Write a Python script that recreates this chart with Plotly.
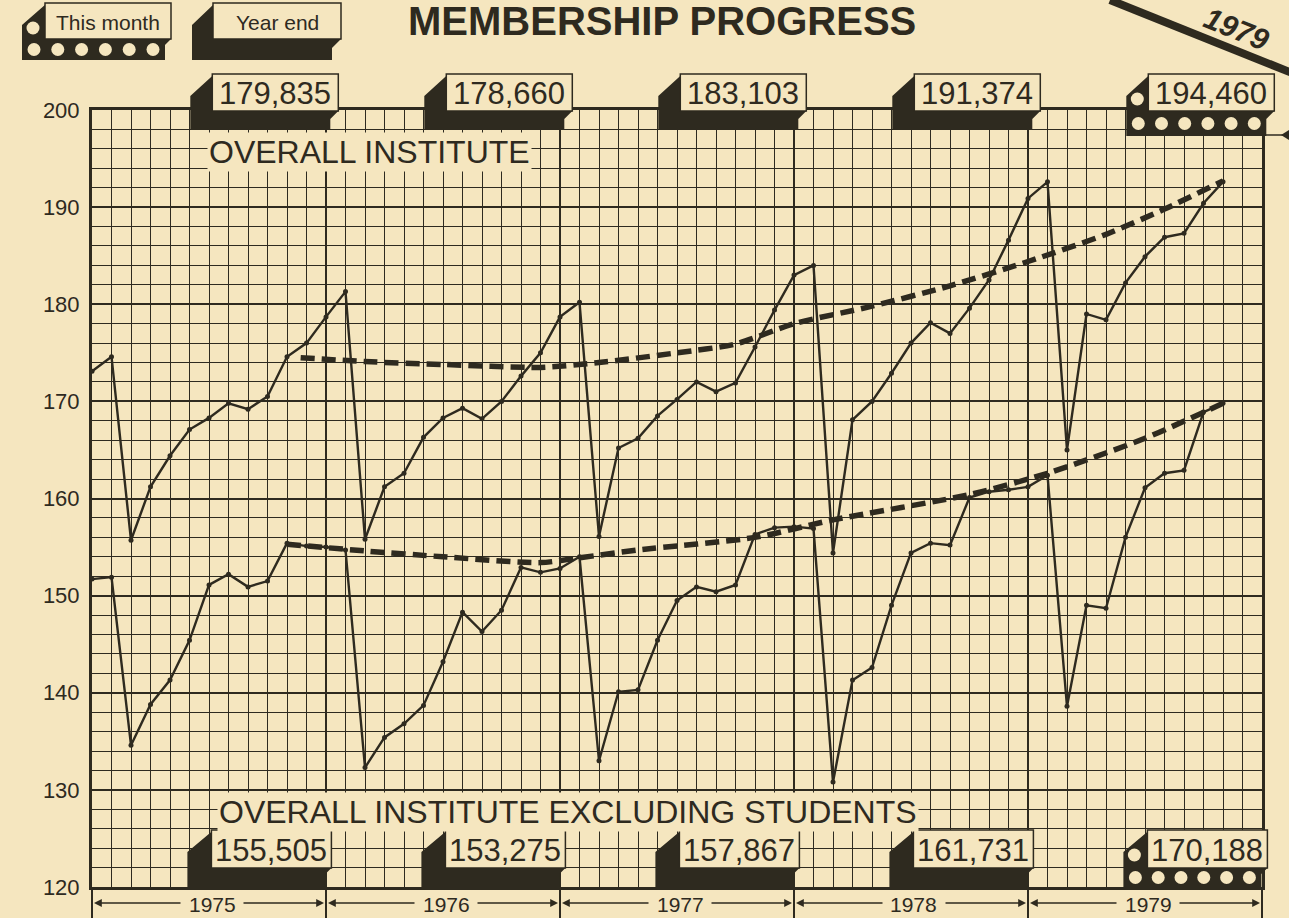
import plotly.graph_objects as go

# ---------------- data (thousands of members, monthly, Jan 1975 = month 0) ----------------
months = list(range(59))
overall_institute = [173.1, 174.6, 155.7, 161.2, 164.4, 167.1, 168.3, 169.8, 169.2, 170.5, 174.6, 176.0, 178.7, 181.3,
                     155.8, 161.2, 162.6, 166.3, 168.3, 169.3, 168.2, 170.0, 172.6, 175.0, 178.7, 180.2,
                     156.1, 165.2, 166.2, 168.5, 170.2, 172.0, 171.0, 171.9, 175.6, 179.4, 183.0, 184.0,
                     154.4, 168.1, 170.0, 172.9, 176.0, 178.1, 177.0, 179.6, 182.5, 186.6, 190.9, 192.6,
                     165.0, 179.0, 178.4, 182.2, 184.9, 186.9, 187.3, 190.4, 192.6]
excluding_students = [151.7, 151.9, 134.6, 138.8, 141.3, 145.4, 151.1, 152.2, 150.9, 151.5, 155.4, 155.1, 155.0, 154.7,
                      132.3, 135.4, 136.8, 138.7, 143.2, 148.3, 146.3, 148.5, 152.9, 152.4, 152.8, 154.0,
                      133.0, 140.1, 140.3, 145.4, 149.5, 150.9, 150.4, 151.1, 156.3, 157.0, 157.1, 156.9,
                      130.8, 141.3, 142.6, 149.0, 154.4, 155.4, 155.2, 160.1, 160.7, 160.9, 161.2, 162.4,
                      138.6, 149.0, 148.7, 156.0, 161.1, 162.6, 162.9, 168.9, 169.8]
trend_overall_months = [10.7, 14, 18, 23, 26, 30, 33, 36, 40, 44, 48, 52, 55, 58]
trend_overall = [174.5, 174.1, 173.8, 173.5, 174.0, 175.0, 175.9, 178.0, 179.8, 181.9, 184.4, 187.2, 189.8, 192.7]
trend_excl_months = [10, 14, 18, 23, 25, 28, 34, 38, 45, 49, 54, 58]
trend_excl = [155.3, 154.6, 154.0, 153.4, 153.9, 154.7, 156.0, 157.8, 160.4, 162.6, 166.2, 169.8]
years = ["1975", "1976", "1977", "1978", "1979"]
year_end_overall = ["179,835", "178,660", "183,103", "191,374", "194,460"]
year_end_excl = ["155,505", "153,275", "157,867", "161,731", "170,188"]
y_ticks = [120, 130, 140, 150, 160, 170, 180, 190, 200]

# ---------------- styling / geometry ----------------
BG = "#F5E6BF"
INK = "#2E2A1F"
FONT = "Liberation Sans"
W, H = 1289, 918
ML, MR, MT, MB = 92, 27, 110, 31
PW, PH = W - ML - MR, H - MT - MB
XMIN, XMAX = 0, 60
YMIN, YMAX = 120, 200


def xp(px):
    return (px - ML) / PW


def yp(py):
    return (H - MB - py) / PH


def mx(m):
    return ML + (m - XMIN) / (XMAX - XMIN) * PW


def P(x, y):
    return f"{xp(x):.5f},{yp(y):.5f}"


shapes = []
annotations = []


def label(text, x, y, size, **kw):
    d = dict(text=text, x=xp(x), y=yp(y), xref="paper", yref="paper", showarrow=False,
             xanchor="center", yanchor="middle", font=dict(size=size, color=INK, family=FONT))
    d.update(kw)
    annotations.append(d)


def tag(box_l, box_r, box_t, box_b, sh_l, sh_r, sh_b, text, size, holes=False):
    pts = [(sh_l, sh_b), (sh_l, box_t + 22), (box_l + 1, box_t + 1), (box_r, box_t + 1),
           (box_r, box_b), (sh_r, box_b + (box_r - sh_r)), (sh_r, sh_b)]
    path = "M " + " L ".join(P(*p) for p in pts) + " Z"
    shapes.append(dict(type="path", xref="paper", yref="paper", path=path,
                       fillcolor=INK, line=dict(width=0), layer="above"))
    shapes.append(dict(type="rect", xref="paper", yref="paper", x0=xp(box_l), x1=xp(box_r),
                       y0=yp(box_b), y1=yp(box_t), fillcolor=BG,
                       line=dict(color=INK, width=1.5), layer="above"))
    if holes:
        r = 6.5
        cy = (box_b + sh_b) / 2
        step = (sh_r - sh_l - 24) / 5
        centers = [(sh_l + 12 + k * step, cy) for k in range(6)] + [(sh_l + 11, box_t + 25)]
        for cx, cyy in centers:
            shapes.append(dict(type="circle", xref="paper", yref="paper",
                               x0=xp(cx - r), x1=xp(cx + r), y0=yp(cyy + r), y1=yp(cyy - r),
                               fillcolor=BG, line=dict(width=0), layer="above"))
    label(text, (box_l + box_r) / 2, (box_t + box_b) / 2 + 1, size)


# legend tags
tag(45, 171, 3, 39, 22, 165, 60, "This month", 21, holes=True)
tag(213, 341, 3, 39, 192, 332, 60, "Year end", 21)

# year-end tags
for i in range(5):
    cx = mx(12 * i + 9.4)
    bl, br = cx - 63, cx + 63
    last = i == 4
    tag(bl, br, 74, 111, bl - 22, br - 8, 136 if last else 130, year_end_overall[i], 31, holes=last)
    cx = mx(12 * i + 9.2)
    bl, br = cx - 60, cx + 60
    tag(bl, br, 830, 868, bl - 24, br - 6, 887, year_end_excl[i], 31, holes=last)

# series labels
label("OVERALL INSTITUTE", 369, 152, 32, bgcolor=BG, borderpad=1)
label("OVERALL INSTITUTE EXCLUDING STUDENTS", 568, 812, 32, bgcolor=BG, borderpad=1)

# title
label("<b>MEMBERSHIP PROGRESS</b>", 662, -3, 40, yanchor="top")

# 1979 banner top-right
shapes.append(dict(type="line", xref="paper", yref="paper", x0=xp(1110), y0=yp(0), x1=xp(1292), y1=yp(73),
                   line=dict(color=INK, width=8), layer="above"))
label("<b><i>1979</i></b>", 1236, 29, 30, textangle=22)
shapes.append(dict(type="line", xref="paper", yref="paper", x0=xp(1262), y0=yp(135), x1=xp(1289), y1=yp(135),
                   line=dict(color=INK, width=1.5), layer="above"))
shapes.append(dict(type="path", xref="paper", yref="paper",
                   path="M " + " L ".join(P(*p) for p in [(1281, 135), (1292, 128), (1292, 142)]) + " Z",
                   fillcolor=INK, line=dict(width=0), layer="above"))

# year spans under the x axis
ROW = 903
for i in range(6):
    shapes.append(dict(type="line", xref="paper", yref="paper", x0=xp(mx(12 * i)), x1=xp(mx(12 * i)),
                       y0=yp(887), y1=yp(920), line=dict(color=INK, width=2)))
for i, yr in enumerate(years):
    lpx, rpx, cpx = mx(12 * i), mx(12 * i + 12), mx(12 * i + 6) + 3
    gap = 30
    annotations.append(dict(text="", x=xp(lpx + 2), y=yp(ROW), xref="paper", yref="paper",
                            ax=(cpx - gap) - (lpx + 2), ay=0, showarrow=True, arrowhead=2, arrowsize=1.2,
                            arrowwidth=1.3, arrowcolor=INK))
    annotations.append(dict(text="", x=xp(rpx - 2), y=yp(ROW), xref="paper", yref="paper",
                            ax=(cpx + gap) - (rpx - 2), ay=0, showarrow=True, arrowhead=2, arrowsize=1.2,
                            arrowwidth=1.3, arrowcolor=INK))
    label(yr, cpx, ROW + 1, 21)

# ---------------- figure ----------------
fig = go.Figure()
fig.add_trace(go.Scatter(x=trend_overall_months, y=trend_overall, mode="lines",
                         line=dict(color=INK, width=5.5, dash="14px,7px", shape="spline", smoothing=0.7),
                         hoverinfo="skip"))
fig.add_trace(go.Scatter(x=trend_excl_months, y=trend_excl, mode="lines",
                         line=dict(color=INK, width=5.5, dash="14px,7px", shape="spline", smoothing=0.7),
                         hoverinfo="skip"))
fig.add_trace(go.Scatter(x=months, y=overall_institute, mode="lines+markers", name="Overall Institute",
                         line=dict(color=INK, width=2.4), marker=dict(size=5, color=INK)))
fig.add_trace(go.Scatter(x=months, y=excluding_students, mode="lines+markers",
                         name="Overall Institute excluding students",
                         line=dict(color=INK, width=2.4), marker=dict(size=5, color=INK)))

fig.update_layout(
    width=W, height=H, autosize=False,
    margin=dict(l=ML, r=MR, t=MT, b=MB),
    paper_bgcolor=BG, plot_bgcolor=BG, showlegend=False,
    shapes=shapes, annotations=annotations,
    font=dict(family=FONT, color=INK),
)
fig.update_xaxes(range=[XMIN, XMAX], tick0=0, dtick=12, showgrid=True, gridcolor=INK, gridwidth=2.4,
                 minor=dict(tick0=0, dtick=1, showgrid=True, gridcolor=INK, gridwidth=1.3),
                 showticklabels=False, ticks="", zeroline=False,
                 showline=True, linewidth=3, linecolor=INK, mirror=True)
fig.update_yaxes(range=[YMIN, YMAX], tickvals=y_ticks, showgrid=True, gridcolor=INK, gridwidth=2.2,
                 minor=dict(tick0=120, dtick=2, showgrid=True, gridcolor=INK, gridwidth=1.3),
                 tickfont=dict(size=22, color=INK, family=FONT), ticklabelstandoff=5, ticks="",
                 zeroline=False, showline=True, linewidth=3, linecolor=INK, mirror=True)

fig.write_html("out.html", config={"displayModeBar": False},
               post_script="document.body.style.margin='0';document.body.style.background='" + BG + "';")
